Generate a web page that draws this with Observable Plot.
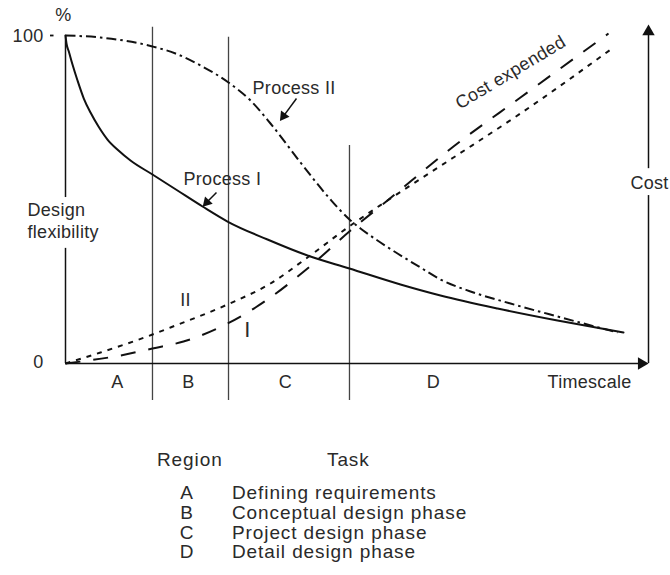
<!DOCTYPE html>
<html><head><meta charset="utf-8">
<script src="https://cdn.jsdelivr.net/npm/d3@7"></script>
<script src="https://cdn.jsdelivr.net/npm/@observablehq/plot@0.6"></script>
<style>
html,body{margin:0;padding:0;background:#fff;}
#wrap{position:relative;width:670px;height:575px;overflow:hidden;font-family:"Liberation Sans",Arial,Helvetica,sans-serif;color:#2a2a2a;}
#wrap svg{position:absolute;left:0;top:0;}
.lg{position:absolute;font-size:19px;letter-spacing:0.9px;line-height:20px;white-space:nowrap;}
</style></head><body><div id="wrap"></div>
<script>
// ---- data (x: timescale 0..100, y: % 0..100) ----
const processI = [[0,100],[0.17,97.56],[0.57,95.12],[1.2,91.16],[2.06,86.28],[3.14,80.79],[4.29,76.52],[5.66,72.26],[7.2,68.29],[9.09,64.94],[11.15,61.89],[14.92,57.62],[19.21,52.74],[23.5,47.87],[27.79,43.29],[34.65,37.8],[41.51,32.93],[48.71,28.96],[57.46,24.09],[64.32,20.73],[74.1,16.77],[84.39,13.11],[95.71,9.45]];
const processII = [[0,100],[6.0,99.39],[14.92,96.65],[18.87,94.51],[23.16,90.85],[27.96,85.67],[31.73,80.18],[35.16,73.17],[40.31,61.28],[45.45,50.0],[48.71,43.9],[50.6,41.16],[54.03,36.89],[56.95,33.54],[60.89,29.27],[64.32,25.61],[69.47,21.95],[76.33,18.29],[84.39,14.33],[94.68,9.45]];
const costI = [[0,0],[3.95,0.91],[9.43,2.44],[14.92,4.57],[20.24,6.71],[27.79,12.2],[32.59,17.07],[34.65,19.51],[41.51,28.96],[48.89,40.55],[55.23,49.7],[66.55,66.16],[78.04,81.1],[93.14,100.61]];
const costII = [[0,0],[6.0,3.35],[14.92,8.84],[18.01,10.98],[27.79,17.99],[35.16,24.39],[41.51,32.32],[48.89,42.07],[55.23,49.7],[66.55,62.8],[78.04,76.22],[93.99,96.34]];
const regions = ["A","B","C","D"];
const regionBounds = [14.92, 27.96, 48.71];
const tasks = ["Defining requirements","Conceptual design phase","Project design phase","Detail design phase"];
const yTickLabels = ["0","100"];
const yTickValues = [0,100];

// ---- layout helpers (data-space annotation positions) ----
const regionTops = [102.5, 99.5, 66.5];
const regionLabelX = [8.92, 21.1, 37.74, 63.12];
const X = d => d[0], Y = d => d[1];
const INK = "#2a2a2a";

const plot = Plot.plot({
  width: 670, height: 410,
  marginLeft: 65, marginRight: 22, marginTop: 35, marginBottom: 47,
  x: {domain: [0, 100], axis: null},
  y: {domain: [0, 100], axis: null},
  style: {fontFamily: '"Liberation Sans",Arial,Helvetica,sans-serif', fontSize: "18px", color: INK, background: "#fff", overflow: "visible", letterSpacing: "0.3px"},
  marks: [
    // region separators
    Plot.ruleX(regionBounds.map((x, i) => ({x, top: regionTops[i]})), {x: "x", y1: () => -11.3, y2: "top", stroke: "#444", strokeWidth: 1.3}),
    // left axis (interrupted by label)
    Plot.ruleX([{y1: 0, y2: 35.1}, {y1: 50.6, y2: 100}], {x: () => 0, y1: "y1", y2: "y2", stroke: "#111", strokeWidth: 1.5}),
    // right cost axis (interrupted by label)
    Plot.ruleX([{y1: 0, y2: 51.2}, {y1: 59.4, y2: 100.5}], {x: () => 100, y1: "y1", y2: "y2", stroke: "#111", strokeWidth: 1.5}),
    // x axis
    Plot.ruleY([0], {x1: () => 0, x2: () => 98.8, stroke: "#111", strokeWidth: 1.5}),
    Plot.dot([{x: 98.8, y: 0, r: 90}], {x: "x", y: "y", symbol: "triangle", r: 4.6, rotate: "r", fill: "#111", stroke: null}),
    Plot.dot([{x: 100, y: 101.2}], {x: "x", y: "y", symbol: "triangle", r: 4.6, fill: "#111", stroke: null}),
    // 100 tick
    Plot.ruleY([100], {x1: () => -2.57, x2: () => -1.97, stroke: "#111", strokeWidth: 1.8}),
    // curves
    Plot.line(processI, {x: X, y: Y, curve: "monotone-x", stroke: "#111", strokeWidth: 2}),
    Plot.line(processII, {x: X, y: Y, curve: "monotone-x", stroke: "#111", strokeWidth: 2, strokeDasharray: "10,4,2.5,4", strokeLinecap: "butt"}),
    Plot.line(costI, {x: X, y: Y, curve: "monotone-x", stroke: "#111", strokeWidth: 2, strokeDasharray: "15,13", strokeLinecap: "butt"}),
    Plot.line(costII, {x: X, y: Y, curve: "monotone-x", stroke: "#111", strokeWidth: 2, strokeDasharray: "5,6", strokeLinecap: "butt"}),
    // annotation arrows
    Plot.link([{x1: 39.62, y1: 80.79, x2: 37.39, y2: 75.43}, {x1: 25.9, y1: 52.13, x2: 24.24, y2: 49.15}], {x1: "x1", y1: "y1", x2: "x2", y2: "y2", stroke: "#111", strokeWidth: 1.5}),
    Plot.dot([{x: 37.39, y: 75.43, r: 216}, {x: 24.24, y: 49.15, r: 223}], {x: "x", y: "y", rotate: "r", symbol: "triangle", r: 3.9, fill: "#111", stroke: null}),
    // y tick labels
    Plot.text(yTickValues.map((v, i) => ({v, t: yTickLabels[i], b: v === 0 ? -1.52 : 98.0})), {x: () => -3.77, y: "b", text: "t", textAnchor: "end", lineAnchor: "bottom", fill: INK, fontSize: 18}),
    Plot.text(["%"], {x: () => -0.34, y: () => 104.27, text: d => d, lineAnchor: "bottom", fill: INK, fontSize: 18}),
    Plot.text(["Design\nflexibility"], {x: () => -6.52, y: () => 38.41, text: d => d, textAnchor: "start", lineAnchor: "bottom", lineHeight: 1.22, fill: INK, fontSize: 18}),
    Plot.text(["Cost"], {x: () => 100.17, y: () => 53.35, text: d => d, lineAnchor: "bottom", fill: INK, fontSize: 18}),
    Plot.text(["Process II"], {x: () => 32.08, y: () => 82.2, text: d => d, textAnchor: "start", lineAnchor: "bottom", fill: INK, fontSize: 18}),
    Plot.text(["Process I"], {x: () => 20.24, y: () => 54.27, text: d => d, textAnchor: "start", lineAnchor: "bottom", fill: INK, fontSize: 18}),
    Plot.text(["Cost expended"], {x: () => 76.33, y: () => 88.72, text: d => d, rotate: -31, fill: INK, fontSize: 18}),
    Plot.text(["II"], {x: () => 20.58, y: () => 17.38, text: d => d, lineAnchor: "bottom", fill: INK, fontSize: 18}),
    Plot.text(["I"], {x: () => 31.22, y: () => 8.23, text: d => d, lineAnchor: "bottom", fill: INK, fontSize: 22}),
    // region letters and timescale
    Plot.text(regions, {x: (d, i) => regionLabelX[i], y: () => -7.32, text: d => d, lineAnchor: "bottom", fill: INK, fontSize: 18}),
    Plot.text(["Timescale"], {x: () => 82.68, y: () => -7.32, text: d => d, textAnchor: "start", lineAnchor: "bottom", fill: INK, fontSize: 18})
  ]
});
const wrap = document.getElementById("wrap");
wrap.appendChild(plot);

// ---- legend below the chart (HTML) ----
function addText(txt, left, baseline, center) {
  const d = document.createElement("div");
  d.className = "lg";
  d.textContent = txt;
  d.style.top = (baseline - 16.6) + "px";
  if (center) { d.style.left = (left - 20) + "px"; d.style.width = "40px"; d.style.textAlign = "center"; }
  else d.style.left = left + "px";
  wrap.appendChild(d);
}
addText("Region", 157, 467, false);
addText("Task", 327, 467, false);
const rowBase = [500, 519.6, 539.2, 558.8];
regions.forEach((r, i) => {
  addText(r, 187, rowBase[i], true);
  addText(tasks[i], 232, rowBase[i], false);
});
</script></body></html>
